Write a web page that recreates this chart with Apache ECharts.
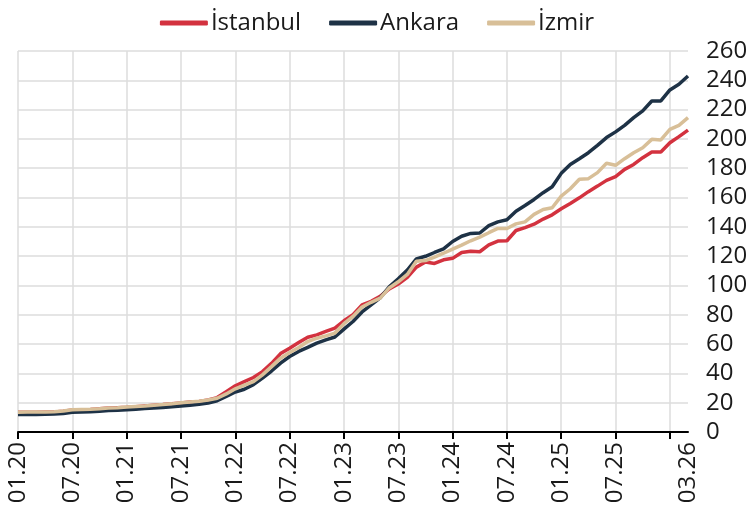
<!DOCTYPE html>
<html>
<head>
<meta charset="utf-8">
<script src="https://cdn.jsdelivr.net/npm/echarts@6/dist/echarts.min.js"></script>
<style>
html,body{margin:0;padding:0;background:#fff;}
#chart{width:754px;height:510px;}
</style>
</head>
<body>
<div id="chart"></div>
<script>
// Month categories 01.20 .. 03.26
const months = [
 "01.20","02.20","03.20","04.20","05.20","06.20","07.20","08.20","09.20","10.20","11.20","12.20",
 "01.21","02.21","03.21","04.21","05.21","06.21","07.21","08.21","09.21","10.21","11.21","12.21",
 "01.22","02.22","03.22","04.22","05.22","06.22","07.22","08.22","09.22","10.22","11.22","12.22",
 "01.23","02.23","03.23","04.23","05.23","06.23","07.23","08.23","09.23","10.23","11.23","12.23",
 "01.24","02.24","03.24","04.24","05.24","06.24","07.24","08.24","09.24","10.24","11.24","12.24",
 "01.25","02.25","03.25","04.25","05.25","06.25","07.25","08.25","09.25","10.25","11.25","12.25",
 "01.26","02.26","03.26"
];
const seriesNames = ["İstanbul","Ankara","İzmir"];
const istanbul = [
 13.5,13.5,13.5,13.6,13.7,14.2, 15,15.2,15.4,15.8,16.3,16.6,
 16.9,17.3,17.8,18.3,18.7,19.2, 19.8,20.4,20.9,21.8,23.5,27.5,
 31.5,34.4,37.2,41.2,46.8,53.5, 57.2,61,64.7,66.3,68.6,70.9,
 75.9,80,86.8,89.2,92.6,97.6, 101,105.5,112.5,116,115,117.5,
 118.5,122.5,123.4,123,127.7,130.3, 130.5,137.5,139.5,141.8,145.3,148.2,
 152.3,156,159.8,164,167.8,171.7, 174.2,179.2,182.6,187.2,191.1,191.1,
 197.4,201.6,206
];
const ankara = [
 12,12,12,12.1,12.2,12.6, 13.5,13.7,13.9,14.2,14.6,14.9,
 15.2,15.6,16,16.4,16.8,17.2, 17.8,18.3,18.9,19.7,21.3,24.2,
 27.3,29.2,32.3,36.8,41.6,47, 51.5,55,57.8,60.6,62.9,64.8,
 70.2,75.4,81.9,86.8,91.5,99, 104.5,110.5,118.1,119.9,122.5,125,
 130,133.6,135.5,135.8,140.8,143.4, 144.8,150.7,154.6,158.7,163.3,167.3,
 176.5,182.6,186.5,190.6,195.6,200.9, 204.8,209.3,214.5,219.1,225.9,225.9,
 233.4,237.3,243
];
const izmir = [
 13.5,13.6,13.6,13.7,13.8,14.3, 15.2,15.4,15.6,15.9,16.3,16.6,
 17,17.4,17.8,18.3,18.7,19.2, 20,20.5,21,21.8,23,26,
 29.5,32,34.4,39,44.6,50.4, 54.2,57.7,61.7,64,65.6,67.5,
 73.9,78.9,85.3,88.5,91.4,98.3, 102.5,107.5,116.5,117,119.4,122,
 124.8,127.5,130.5,133,136,138.9, 138.9,142,143.4,148.5,151.8,153,
 161,166,172.5,172.9,177,183.4, 182,186.5,190.6,194,199.7,199.3,
 206.5,209.3,214.5
];
const yTicks = {min:0, max:260, step:20};
const colors = ["#D3323F","#1E3246","#D8BF98"];

const chart = echarts.init(document.getElementById('chart'), null, {renderer:'canvas'});
const FONT = "'Open Sans', 'Noto Sans', sans-serif";
const values = [istanbul, ankara, izmir];
chart.setOption({
  animation:false,
  backgroundColor:'#fff',
  color: colors,
  legend:{
    top:6, left:'center',
    icon:'roundRect',
    itemWidth:48, itemHeight:5, itemGap:28,
    textStyle:{fontFamily:FONT, fontSize:24, color:'#1a1a1a', padding:[0,0,0,-2]},
    data: seriesNames
  },
  grid:{left:18, right:66, top:51, bottom:78},
  xAxis:{
    type:'category', data:months, boundaryGap:false,
    axisLine:{show:true, lineStyle:{color:'#000', width:2}},
    axisTick:{show:true, length:7, lineStyle:{color:'#000', width:2}, interval:(i)=>i%6===0},
    axisLabel:{
      rotate:90, margin:10, fontFamily:FONT, fontSize:24, color:'#1a1a1a',
      interval:(i)=> (i%6===0 && i!==72) || i===74
    },
    splitLine:{show:true, lineStyle:{color:'#dcdcdc', width:1.5}, interval:(i)=>i%6===0}
  },
  yAxis:{
    type:'value', position:'right', min:yTicks.min, max:yTicks.max, interval:yTicks.step,
    axisLine:{show:false}, axisTick:{show:false},
    axisLabel:{margin:18, fontFamily:FONT, fontSize:24, color:'#1a1a1a'},
    splitLine:{show:true, lineStyle:{color:'#dcdcdc', width:1.5}}
  },
  series: seriesNames.map((n,k)=>({
    name:n, type:'line', data:values[k], symbol:'none', showSymbol:false,
    lineStyle:{width:3.5, color:colors[k]}, itemStyle:{color:colors[k]},
    z: k===0 ? 3 : (k===1 ? 4 : 5)
  }))
});
</script>
</body>
</html>
